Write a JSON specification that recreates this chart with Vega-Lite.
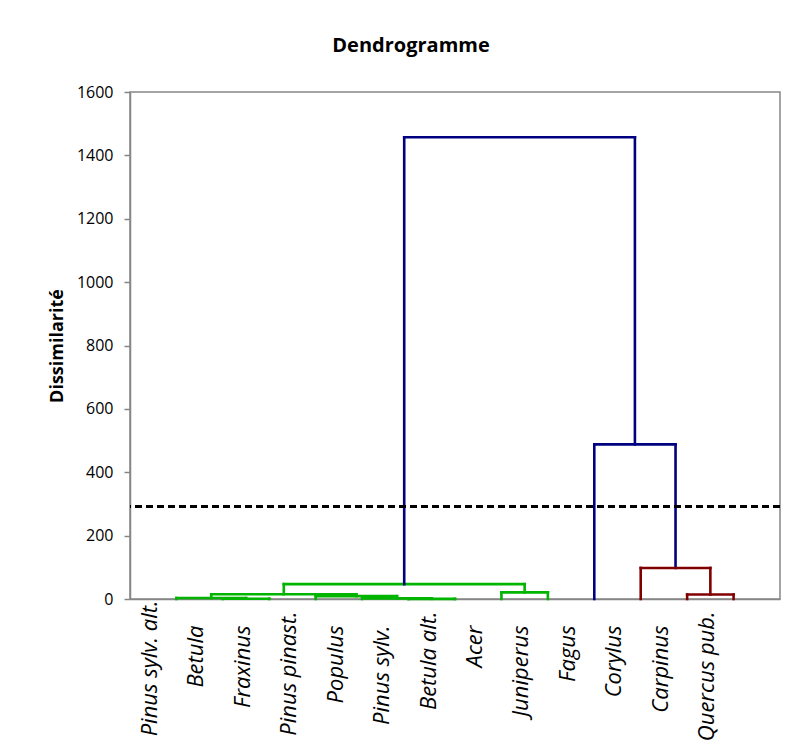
{
  "$schema": "https://vega.github.io/schema/vega-lite/v6.json",
  "autosize": {"type": "none"},
  "width": 650,
  "height": 507,
  "padding": {"left": 130, "top": 92, "right": 32, "bottom": 146},
  "background": "white",
  "title": {
    "text": "Dendrogramme",
    "font": "Open Sans",
    "fontSize": 20,
    "fontWeight": "bold",
    "color": "black",
    "anchor": "middle",
    "dx": -44,
    "offset": 28
  },
  "config": {
    "view": {"stroke": "#868686", "strokeWidth": 1.5},
    "axis": {"grid": false, "domainColor": "#868686", "domainWidth": 1.5, "tickColor": "#868686", "tickWidth": 1.5, "labelFont": "Open Sans", "labelColor": "black", "titleFont": "Open Sans", "titleColor": "black"}
  },
  "data": {
    "values": [
      {"x1": 1, "x2": 1, "y1": 0, "y2": 3, "grp": "g"},
      {"x1": 2, "x2": 2, "y1": 0, "y2": 1, "grp": "g"},
      {"x1": 3, "x2": 3, "y1": 0, "y2": 1, "grp": "g"},
      {"x1": 2, "x2": 3, "y1": 1, "y2": 1, "grp": "g"},
      {"x1": 2.5, "x2": 2.5, "y1": 1, "y2": 3, "grp": "g"},
      {"x1": 1, "x2": 2.5, "y1": 3, "y2": 3, "grp": "g"},
      {"x1": 1.75, "x2": 1.75, "y1": 3, "y2": 15, "grp": "g"},
      {"x1": 6, "x2": 6, "y1": 0, "y2": 0.5, "grp": "g"},
      {"x1": 7, "x2": 7, "y1": 0, "y2": 0.5, "grp": "g"},
      {"x1": 6, "x2": 7, "y1": 0.5, "y2": 0.5, "grp": "g"},
      {"x1": 6.5, "x2": 6.5, "y1": 0.5, "y2": 2, "grp": "g"},
      {"x1": 5, "x2": 5, "y1": 0, "y2": 2, "grp": "g"},
      {"x1": 5, "x2": 6.5, "y1": 2, "y2": 2, "grp": "g"},
      {"x1": 5.75, "x2": 5.75, "y1": 2, "y2": 9, "grp": "g"},
      {"x1": 4, "x2": 4, "y1": 0, "y2": 9, "grp": "g"},
      {"x1": 4, "x2": 5.75, "y1": 9, "y2": 9, "grp": "g"},
      {"x1": 4.875, "x2": 4.875, "y1": 9, "y2": 15, "grp": "g"},
      {"x1": 1.75, "x2": 4.875, "y1": 15, "y2": 15, "grp": "g"},
      {"x1": 3.3125, "x2": 3.3125, "y1": 15, "y2": 47, "grp": "g"},
      {"x1": 8, "x2": 8, "y1": 0, "y2": 21, "grp": "g"},
      {"x1": 9, "x2": 9, "y1": 0, "y2": 21, "grp": "g"},
      {"x1": 8, "x2": 9, "y1": 21, "y2": 21, "grp": "g"},
      {"x1": 8.5, "x2": 8.5, "y1": 21, "y2": 47, "grp": "g"},
      {"x1": 3.3125, "x2": 8.5, "y1": 47, "y2": 47, "grp": "g"},
      {"x1": 5.90625, "x2": 5.90625, "y1": 47, "y2": 1457, "grp": "b"},
      {"x1": 5.90625, "x2": 10.875, "y1": 1457, "y2": 1457, "grp": "b"},
      {"x1": 10.875, "x2": 10.875, "y1": 488, "y2": 1457, "grp": "b"},
      {"x1": 10, "x2": 11.75, "y1": 488, "y2": 488, "grp": "b"},
      {"x1": 10, "x2": 10, "y1": 0, "y2": 488, "grp": "b"},
      {"x1": 11.75, "x2": 11.75, "y1": 98, "y2": 488, "grp": "b"},
      {"x1": 11, "x2": 12.5, "y1": 98, "y2": 98, "grp": "r"},
      {"x1": 11, "x2": 11, "y1": 0, "y2": 98, "grp": "r"},
      {"x1": 12.5, "x2": 12.5, "y1": 14, "y2": 98, "grp": "r"},
      {"x1": 12, "x2": 13, "y1": 14, "y2": 14, "grp": "r"},
      {"x1": 12, "x2": 12, "y1": 0, "y2": 14, "grp": "r"},
      {"x1": 13, "x2": 13, "y1": 0, "y2": 14, "grp": "r"}
    ]
  },
  "layer": [
    {
      "mark": {"type": "rule", "strokeWidth": 2.6, "strokeCap": "square"},
      "encoding": {
        "x": {
          "field": "x1", "type": "quantitative",
          "scale": {"domain": [0, 14], "nice": false, "zero": false},
          "axis": {
            "title": null,
            "values": [1, 2, 3, 4, 5, 6, 7, 8, 9, 10, 11, 12, 13],
            "labelExpr": "['Pinus sylv. alt.', 'Betula', 'Fraxinus', 'Pinus pinast.', 'Populus', 'Pinus sylv.', 'Betula alt.', 'Acer', 'Juniperus', 'Fagus', 'Corylus', 'Carpinus', 'Quercus pub.'][datum.value - 1]",
            "ticks": false,
            "labelAngle": -90,
            "labelAlign": "right",
            "labelBaseline": "middle",
            "labelPadding": {
              "condition": [
                {"test": "datum.value == 1", "value": 1},
                {"test": "datum.value == 4 || datum.value == 7 || datum.value == 13", "value": 12}
              ],
              "value": 26
            },
            "labelOffset": -27,
            "labelFontSize": 22,
            "labelFontStyle": "italic",
            "labelOverlap": false,
            "labelFlush": false,
            "labelBound": false
          }
        },
        "x2": {"field": "x2"},
        "y": {
          "field": "y1", "type": "quantitative",
          "scale": {"domain": [0, 1600], "nice": false},
          "axis": {
            "title": "Dissimilarité",
            "titleFontSize": 18,
            "titleFontWeight": "bold",
            "titlePadding": 10,
            "values": [0, 200, 400, 600, 800, 1000, 1200, 1400, 1600],
            "format": "d",
            "tickSize": 6,
            "labelPadding": 11,
            "labelFontSize": 16
          }
        },
        "y2": {"field": "y2"},
        "color": {
          "field": "grp", "type": "nominal", "legend": null,
          "scale": {"domain": ["g", "b", "r"], "range": ["#00B400", "#000080", "#800000"]}
        }
      }
    },
    {
      "mark": {"type": "rule", "color": "black", "strokeWidth": 2, "strokeDash": [7, 4]},
      "encoding": {"y": {"datum": 293}}
    }
  ]
}
